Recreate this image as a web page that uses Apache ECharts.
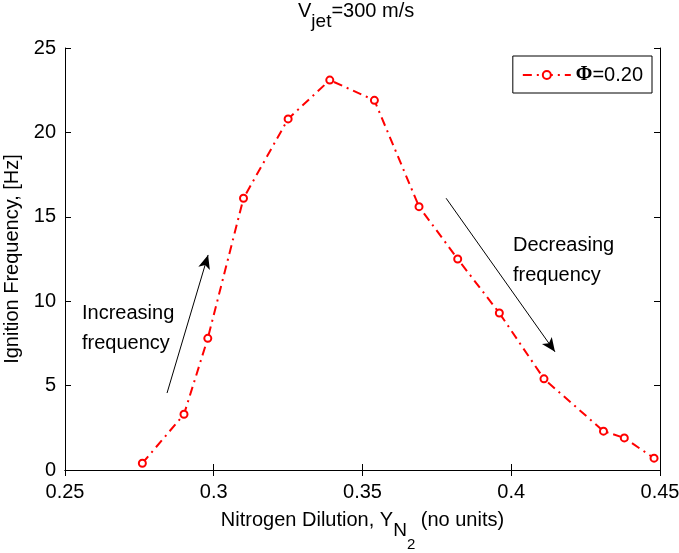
<!DOCTYPE html>
<html>
<head>
<meta charset="utf-8">
<script src="https://cdn.jsdelivr.net/npm/echarts@6/dist/echarts.min.js"></script>
<style>
  html, body { margin: 0; padding: 0; background: #fff; }
  #chart { width: 679px; height: 553px; }
</style>
</head>
<body>
<div id="chart"></div>
<script>
// Nitrogen dilution (mass fraction) and measured ignition frequency
const dilution = [0.276, 0.290, 0.298, 0.310, 0.325, 0.339, 0.354, 0.369, 0.382, 0.396, 0.411, 0.431, 0.438, 0.448];
const frequency = [0.4, 3.3, 7.8, 16.1, 20.8, 23.1, 21.9, 15.6, 12.5, 9.3, 5.4, 2.3, 1.9, 0.7];

const xTickLabels = ['0.25', '0.3', '0.35', '0.4', '0.45'];
const yTickLabels = ['0', '5', '10', '15', '20', '25'];

// Trend arrows, in data units: [start, end]
const increasingArrow = [[0.2843, 4.56], [0.2981, 12.74]];
const decreasingArrow = [[0.3781, 16.1], [0.4147, 7.0]];

const FONT = 'Liberation Sans, Arial, sans-serif';
const FS = 20;

const chart = echarts.init(document.getElementById('chart'));

function tickFmt(labels, min, step) {
  return v => {
    const i = Math.round((v - min) / step);
    return labels[i] !== undefined ? labels[i] : '';
  };
}

// Rich-text styles for labels with (nested) subscripts
const subRich = {
  b: { fontSize: FS, fontFamily: FONT, fontWeight: 'normal', color: '#000', lineHeight: 22, verticalAlign: 'top' },
  s: { fontSize: 19, fontFamily: FONT, fontWeight: 'normal', color: '#000', lineHeight: 20, padding: [11, 0, 0, 0], verticalAlign: 'top' },
  ss: { fontSize: 15, fontFamily: FONT, fontWeight: 'normal', color: '#000', lineHeight: 16, padding: [27, 0, 0, 0], verticalAlign: 'top' }
};

const option = {
  animation: false,
  backgroundColor: '#fff',
  title: {
    text: '{b|V}{s|jet}{b|=300 m/s}',
    left: 298,
    top: 1,
    padding: 0,
    textStyle: { fontWeight: 'normal', rich: subRich }
  },
  grid: { left: 65, right: 19, top: 48, bottom: 83, containLabel: false, outerBoundsMode: 'none' },
  legend: {
    right: 27,
    top: 56,
    orient: 'vertical',
    backgroundColor: '#fff',
    borderColor: '#000',
    borderWidth: 1,
    borderRadius: 0,
    padding: [8, 9, 7, 9],
    itemWidth: 48,
    itemHeight: 10,
    itemGap: 4,
    data: ['phi'],
    formatter: () => '{phi|\u03A6}{t|=0.20}',
    textStyle: {
      lineHeight: 22,
      rich: {
        phi: { fontSize: 20, lineHeight: 22, fontFamily: 'Liberation Serif, DejaVu Serif, serif', fontWeight: 'bold', color: '#000' },
        t: { fontSize: FS, lineHeight: 22, fontFamily: FONT, color: '#000' }
      }
    }
  },
  xAxis: [{
    type: 'value',
    min: 0.25, max: 0.45, interval: 0.05,
    position: 'bottom',
    axisLine: { lineStyle: { color: '#000', width: 1 } },
    axisTick: { inside: true, length: 6, lineStyle: { color: '#000' } },
    axisLabel: { color: '#000', fontSize: FS, fontFamily: FONT, margin: 12, formatter: tickFmt(xTickLabels, 0.25, 0.05) },
    splitLine: { show: false },
    name: '{b|Nitrogen Dilution, Y}{s|N}{ss|2}{b| (no units)}',
    nameLocation: 'middle',
    nameGap: 40,
    nameTextStyle: { rich: subRich, verticalAlign: 'top' }
  }, {
    type: 'value',
    min: 0.25, max: 0.45, interval: 0.05,
    position: 'top',
    axisLine: { lineStyle: { color: '#000', width: 1 } },
    axisTick: { inside: true, length: 6, lineStyle: { color: '#000' } },
    axisLabel: { show: false },
    splitLine: { show: false }
  }],
  yAxis: [{
    type: 'value',
    min: 0, max: 25, interval: 5,
    position: 'left',
    axisLine: { show: true, lineStyle: { color: '#000', width: 1 } },
    axisTick: { show: true, inside: true, length: 6, lineStyle: { color: '#000' } },
    axisLabel: { color: '#000', fontSize: FS, fontFamily: FONT, margin: 9, formatter: tickFmt(yTickLabels, 0, 5) },
    splitLine: { show: false },
    name: 'Ignition Frequency, [Hz]',
    nameLocation: 'middle',
    nameGap: 34,
    nameTextStyle: { color: '#000', fontSize: FS, fontFamily: FONT }
  }, {
    type: 'value',
    min: 0, max: 25, interval: 5,
    position: 'right',
    axisLine: { show: true, lineStyle: { color: '#000', width: 1 } },
    axisTick: { show: true, inside: true, length: 6, lineStyle: { color: '#000' } },
    axisLabel: { show: false },
    splitLine: { show: false }
  }],
  series: [{
    name: 'phi',
    type: 'line',
    data: dilution.map((x, i) => [x, frequency[i]]),
    symbol: 'emptyCircle',
    symbolSize: 7,
    showAllSymbol: true,
    color: '#ff0000',
    lineStyle: { color: '#ff0000', width: 2, type: [9, 5, 2, 5] },
    itemStyle: { color: '#ff0000', borderColor: '#ff0000', borderWidth: 1.5 },
    markLine: {
      silent: true,
      symbol: ['none', 'arrow'],
      symbolSize: [9, 14],
      label: { show: false },
      lineStyle: { color: '#000', width: 1, type: 'solid' },
      itemStyle: { color: '#000' },
      data: [
        [{ coord: increasingArrow[0] }, { coord: increasingArrow[1] }],
        [{ coord: decreasingArrow[0] }, { coord: decreasingArrow[1] }]
      ]
    }
  }],
  graphic: [{
    type: 'text',
    left: 82, top: 298,
    style: { text: 'Increasing\nfrequency', font: FS + 'px ' + FONT, fill: '#000', lineHeight: 30 }
  }, {
    type: 'text',
    left: 513, top: 230,
    style: { text: 'Decreasing\nfrequency', font: FS + 'px ' + FONT, fill: '#000', lineHeight: 30 }
  }]
};

chart.setOption(option);
</script>
</body>
</html>
